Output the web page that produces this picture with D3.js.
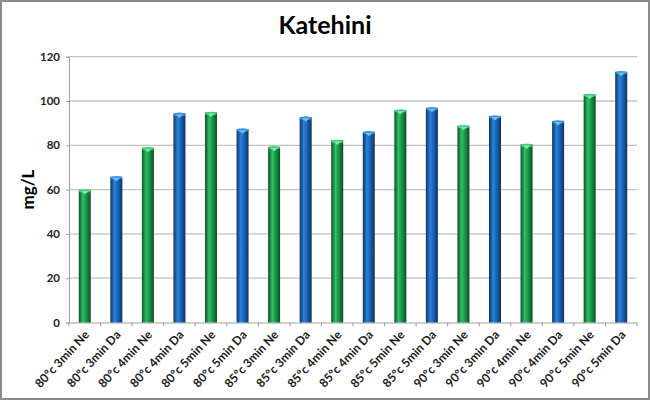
<!DOCTYPE html>
<html><head><meta charset="utf-8">
<script src="https://cdn.jsdelivr.net/npm/d3@7"></script>
<style>html,body{margin:0;padding:0;background:#fff;}svg{display:block;font-family:Lato,"Open Sans",sans-serif;}</style>
</head><body><svg id="c" width="650" height="400"></svg>
<script>
const categories = ["80ºc 3min Ne","80ºc 3min Da","80ºc 4min Ne","80ºc 4min Da","80ºc 5min Ne","80ºc 5min Da",
  "85ºc 3min Ne","85ºc 3min Da","85ºc 4min Ne","85ºc 4min Da","85ºc 5min Ne","85ºc 5min Da",
  "90ºc 3min Ne","90ºc 3min Da","90ºc 4min Ne","90ºc 4min Da","90ºc 5min Ne","90ºc 5min Da"];
const values = [59.8, 65.8, 78.9, 94.4, 94.8, 87.3, 79.3, 92.7, 82.2, 86.1, 95.9, 96.9, 88.8, 93.2, 80.4, 91.0, 102.9, 113.2];
const yTicks = [0, 20, 40, 60, 80, 100, 120];
const title = "Katehini";
const yTitle = "mg/L";

const svg = d3.select("#c");
const W = 650, H = 400;
const m = {left: 69, right: 13, top: 56.7, bottom: 77.5};

svg.append("rect").attr("x",1).attr("y",1).attr("width",W-2).attr("height",H-2)
  .attr("fill","#fff").attr("stroke","#8c8c8c").attr("stroke-width",2);

const x = d3.scaleBand().domain(categories).range([m.left, W - m.right]);
const y = d3.scaleLinear().domain([0, 120]).range([H - m.bottom, m.top]);

const defs = svg.append("defs");
function grad(id, dark, mid, light) {
  const g = defs.append("linearGradient").attr("id", id).attr("x1","0").attr("x2","1").attr("y1","0").attr("y2","0");
  g.append("stop").attr("offset","0%").attr("stop-color",dark);
  g.append("stop").attr("offset","35%").attr("stop-color",light);
  g.append("stop").attr("offset","60%").attr("stop-color",mid);
  g.append("stop").attr("offset","100%").attr("stop-color",dark);
}
grad("gG", "#0b4f25", "#1a9a48", "#2fc065");
grad("gB", "#0b3266", "#1b66b8", "#2c82d8");

// gridlines
svg.append("g").selectAll("line").data(yTicks.filter(d => d > 0)).join("line")
  .attr("x1", m.left).attr("x2", W - m.right)
  .attr("y1", d => y(d)).attr("y2", d => y(d))
  .attr("stroke", "#c2c2c2").attr("stroke-width", 1.3);

// y axis
const ya = svg.append("g").attr("transform", `translate(${m.left},0)`)
  .call(d3.axisLeft(y).tickValues(yTicks).tickSize(3).tickPadding(6));
ya.select(".domain").attr("stroke", "#a0a0a0");
ya.selectAll(".tick line").attr("stroke", "#a0a0a0");
ya.selectAll("text").attr("font-size", 11.5).attr("font-weight", "bold").attr("fill", "#222")
  .attr("font-family", "Lato, sans-serif");

// x axis
const xa = svg.append("g").attr("transform", `translate(0,${H - m.bottom})`)
  .call(d3.axisBottom(x).tickSize(0).tickFormat(""));
xa.select(".domain").attr("stroke", "#a0a0a0");
const bounds = categories.map((c, i) => x(c)).concat([W - m.right]);
xa.selectAll(".bnd").data(bounds).join("line").attr("class","bnd")
  .attr("x1", d => d).attr("x2", d => d).attr("y1", 0).attr("y2", 4).attr("stroke", "#a0a0a0");

// x labels
svg.append("g").selectAll("text").data(categories).join("text")
  .attr("transform", d => `translate(${x(d) + x.bandwidth()/2 + 2},${H - m.bottom + 10}) rotate(-47)`)
  .attr("text-anchor", "end").attr("dy", "0.35em")
  .attr("font-size", 12).attr("font-weight", "bold").attr("fill", "#1a1a1a")
  .text(d => d);

// bars
const bw = 12;
const isNe = d => d.endsWith("Ne");
const bars = svg.append("g").selectAll("g").data(categories.map((c, i) => ({c, v: values[i]}))).join("g");
bars.append("rect")
  .attr("x", d => x(d.c) + x.bandwidth()/2 - bw/2)
  .attr("y", d => y(d.v))
  .attr("width", bw)
  .attr("height", d => y(0) - y(d.v))
  .attr("fill", d => isNe(d.c) ? "url(#gG)" : "url(#gB)");
bars.append("ellipse")
  .attr("cx", d => x(d.c) + x.bandwidth()/2)
  .attr("cy", d => y(d.v) + 1)
  .attr("rx", bw/2).attr("ry", 1.8)
  .attr("fill", d => isNe(d.c) ? "#3fcf75" : "#3a95e8");
bars.append("path")
  .attr("d", d => {
    const cx = x(d.c) + x.bandwidth()/2, ty = y(d.v) + 1;
    return `M${cx-3.5},${ty} L${cx+3.5},${ty} L${cx},${ty+3.5} Z`;
  })
  .attr("fill", d => isNe(d.c) ? "#7fe8a5" : "#6fc0f5");

// title
svg.append("text").attr("x", 325).attr("y", 34).attr("text-anchor", "middle")
  .attr("font-size", 25).attr("font-weight", "bold").attr("fill", "#000").text(title);

// y title
svg.append("text").attr("transform", `translate(34,${(y(0)+y(120))/2}) rotate(-90)`)
  .attr("text-anchor", "middle").attr("font-size", 17).attr("font-weight", "bold").attr("fill", "#000")
  .text(yTitle);
</script></body></html>
